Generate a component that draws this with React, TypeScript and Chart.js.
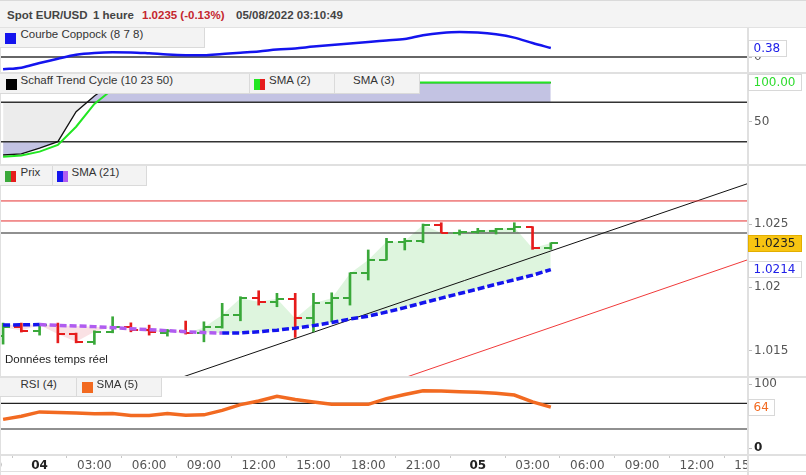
import React, { useEffect, useRef } from 'react';
import { Chart, registerables } from 'chart.js';

Chart.register(...registerables);
Chart.defaults.font.family = '"DejaVu Sans", Verdana, sans-serif';

// ---- time axis (hours counted from 04/08 00:00) ----
const hours = [-2, -1, 0, 1, 2, 3, 4, 5, 6, 7, 8, 9, 10, 11, 12, 13, 14, 15, 16, 17, 18, 19, 20, 21, 22, 23, 24, 25, 26, 27, 28];
const xTickHours = [-3, 0, 3, 6, 9, 12, 15, 18, 21, 24, 27, 30, 33, 36, 39];
const xTickLabels = ['21:00', '04', '03:00', '06:00', '09:00', '12:00', '15:00', '18:00', '21:00', '05', '03:00', '06:00', '09:00', '12:00', '15:00'];
const xBoldLabels = ['04', '05'];

// ---- price (OHLC, hourly) ----
const opens = [1.01615, 1.01686, 1.01659, 1.01702, 1.01631, 1.0157, 1.01649, 1.01689, 1.01663, 1.01641, 1.01652, 1.01637, 1.01684, 1.01781, 1.01916, 1.01886, 1.01911, 1.01755, 1.01874, 1.01913, 1.0211, 1.02216, 1.0236, 1.02366, 1.02492, 1.02431, 1.02439, 1.02447, 1.02458, 1.02474, 1.02308];
const highs = [1.01718, 1.01718, 1.0171, 1.01718, 1.01639, 1.01657, 1.01768, 1.0172, 1.01702, 1.01668, 1.01734, 1.01728, 1.01874, 1.01926, 1.01973, 1.01953, 1.01953, 1.01953, 1.01957, 1.02115, 1.02295, 1.02387, 1.02387, 1.025, 1.0251, 1.02453, 1.02466, 1.02466, 1.0251, 1.02479, 1.02352];
const lows = [1.01552, 1.01647, 1.01623, 1.01562, 1.01562, 1.0155, 1.01641, 1.01649, 1.01623, 1.01615, 1.01631, 1.0157, 1.01678, 1.01736, 1.0186, 1.01847, 1.01605, 1.01649, 1.01728, 1.0186, 1.02058, 1.02216, 1.02295, 1.02352, 1.02431, 1.02413, 1.02427, 1.02421, 1.02439, 1.023, 1.023];
const closes = [1.01686, 1.01659, 1.01702, 1.01631, 1.0157, 1.01649, 1.01689, 1.01663, 1.01649, 1.01652, 1.01637, 1.01684, 1.01781, 1.01913, 1.01886, 1.01911, 1.01755, 1.01874, 1.01913, 1.0211, 1.02216, 1.0236, 1.02366, 1.02492, 1.02431, 1.02439, 1.02447, 1.02458, 1.02474, 1.02308, 1.0235];
const sma21 = [1.01703, 1.01704, 1.01706, 1.017, 1.01695, 1.0169, 1.01682, 1.01674, 1.01666, 1.01658, 1.0165, 1.01643, 1.01639, 1.0164, 1.0165, 1.01662, 1.01678, 1.01698, 1.01722, 1.0175, 1.01773, 1.01805, 1.0184, 1.01878, 1.01915, 1.01951, 1.01987, 1.02024, 1.0206, 1.02096, 1.0214];
const priceRedLevels = [1.02682, 1.02524];
const priceBlackLevels = [1.02429];
const trendBlackHours = [4, 40];
const trendBlackPrices = [1.01103, 1.02879];
const trendRedHours = [20, 40];
const trendRedPrices = [1.01287, 1.02278];
const priceTicks = [1.015, 1.02, 1.025];
const priceTickLabels = ['1.015', '1.02', '1.025'];

// ---- Coppock ----
const coppock = [-0.515, -0.45, -0.253, -0.07, 0.093, 0.169, 0.198, 0.194, 0.156, 0.105, 0.076, 0.072, 0.127, 0.181, 0.232, 0.312, 0.363, 0.439, 0.502, 0.565, 0.633, 0.696, 0.76, 0.916, 1.013, 1.055, 1.034, 0.958, 0.819, 0.59, 0.38];
const coppockTicks = [0];
const coppockTickLabels = ['0'];

// ---- Schaff Trend Cycle ----
const stc = [8.1, 9.5, 16.7, 25.1, 63, 83, 100, 100, 100, 100, 100, 100, 100, 100, 100, 100, 100, 100, 100, 100, 100, 100, 100, 100, 100, 100, 100, 100, 100, 100, 100];
const stcSma2 = [6, 7.6, 12.4, 20.9, 44, 73, 91.5, 100, 100, 100, 100, 100, 100, 100, 100, 100, 100, 100, 100, 100, 100, 100, 100, 100, 100, 100, 100, 100, 100, 100, 100];
const stcUpper = 75;
const stcLower = 25;
const stcTicks = [50];
const stcTickLabels = ['50'];

// ---- RSI ----
const rsiSma5 = [45, 50, 56.6, 55.8, 55, 53.6, 54.2, 51, 51, 54, 51.6, 52, 59, 67.9, 73.6, 81, 75.8, 72, 68.4, 68.4, 68.4, 77.3, 83.6, 89.5, 89, 88, 87, 85.5, 82.8, 72.3, 64];
const rsiLevels = [70, 30];
const rsiTicks = [0, 100];
const rsiTickLabels = ['0', '100'];

const levelSpan = [-3, 40];

const GREEN = '#3aa83a';
const RED = '#e61c1c';
const BLUE = '#1414ee';
const PURPLE = '#b05cf0';
const ORANGE = '#f26a21';
const LAV = '#c3c3e3';
const GRAYFILL = '#ececec';
const LEG_FONT = '"Liberation Sans", Arial, sans-serif';

function Legend(props: any) {
  const { left, top, width, height, swatch, swLeft, text, textLeft } = props;
  return (
    <div style={{ position: 'absolute', left, top, width, height, boxSizing: 'border-box', background: '#f3f3f3', borderRight: '1px solid #dadada', borderBottom: '1px solid #dadada' }}>
      {swatch ? (
        <div style={{ position: 'absolute', left: swLeft - left, top: (height - 11) / 2, width: 11, height: 11, display: 'flex' }}>
          {swatch.map((c: string, i: number) => (
            <div key={i} style={{ flex: 1, background: c }} />
          ))}
        </div>
      ) : null}
      <span style={{ position: 'absolute', left: textLeft - left, top: 0, lineHeight: height - 1 + 'px', font: `11.5px ${LEG_FONT}`, color: '#333', whiteSpace: 'nowrap' }}>{text}</span>
    </div>
  );
}

export default function App() {
  const ref = useRef<HTMLCanvasElement>(null);

  useEffect(() => {
    const canvas = ref.current as HTMLCanvasElement;
    const mkTick = (color: string, left: boolean) => {
      const c = document.createElement('canvas');
      c.width = 14;
      c.height = 2;
      const g = c.getContext('2d') as CanvasRenderingContext2D;
      g.fillStyle = color;
      g.fillRect(left ? 0 : 7, 0, 7, 2);
      return c;
    };
    const up = closes.map((c, i) => c >= opens[i]);
    const barColors = up.map((u) => (u ? GREEN : RED));
    const openStyles = up.map((u) => mkTick(u ? GREEN : RED, true));
    const closeStyles = up.map((u) => mkTick(u ? GREEN : RED, false));
    const pts = (ys: number[]) => hours.map((h, i) => ({ x: h, y: ys[i] }));
    const span = (v: number) => levelSpan.map((x) => ({ x, y: v }));
    const line = (extra: any) => ({ type: 'line', pointRadius: 0, fill: false, clip: 0, tension: 0, borderWidth: 1.5, ...extra });

    const datasets: any[] = [];
    // Coppock
    datasets.push(line({ label: 'cop0', data: span(0), yAxisID: 'yCop', borderColor: '#333', order: 50 }));
    datasets.push(line({ label: 'coppock', data: pts(coppock), yAxisID: 'yCop', borderColor: BLUE, borderWidth: 2.5, tension: 0.4, cubicInterpolationMode: 'monotone', order: 10 }));
    // STC fills
    datasets.push(line({ label: 'stcFillUp', data: pts(stc), yAxisID: 'ySch', borderWidth: 0, borderColor: 'rgba(0,0,0,0)', fill: { target: { value: stcUpper }, above: LAV, below: GRAYFILL }, order: 100 }));
    datasets.push(line({ label: 'stcFillLow', data: pts(stc), yAxisID: 'ySch', borderWidth: 0, borderColor: 'rgba(0,0,0,0)', fill: { target: { value: stcLower }, above: 'rgba(0,0,0,0)', below: LAV }, order: 99 }));
    datasets.push(line({ label: 'stc75', data: span(stcUpper), yAxisID: 'ySch', borderColor: '#333', order: 50 }));
    datasets.push(line({ label: 'stc25', data: span(stcLower), yAxisID: 'ySch', borderColor: '#333', order: 50 }));
    datasets.push(line({ label: 'stc', data: pts(stc), yAxisID: 'ySch', borderColor: '#111', borderWidth: 1.3, order: 20 }));
    datasets.push(line({ label: 'stcSma2', data: pts(stcSma2), yAxisID: 'ySch', borderColor: '#22e622', borderWidth: 2, order: 10 }));
    // Price
    datasets.push(line({ label: 'sma21', data: pts(sma21), yAxisID: 'yPrice', borderColor: BLUE, borderWidth: 3.5, borderDash: [7, 3], segment: { borderColor: (c: any) => (c.p1.parsed.y < c.p0.parsed.y ? PURPLE : BLUE) }, order: 30 }));
    const smaIdx = datasets.length - 1;
    datasets.push(line({ label: 'closeFill', data: pts(closes), yAxisID: 'yPrice', borderWidth: 0, borderColor: 'rgba(0,0,0,0)', fill: { target: smaIdx, above: 'rgba(90,205,90,0.2)', below: 'rgba(232,120,130,0.22)' }, order: 100 }));
    priceRedLevels.forEach((v) => datasets.push(line({ label: 'red', data: span(v), yAxisID: 'yPrice', borderColor: '#e53030', borderWidth: 1, order: 60 })));
    priceBlackLevels.forEach((v) => datasets.push(line({ label: 'black', data: span(v), yAxisID: 'yPrice', borderColor: '#222', borderWidth: 1.2, order: 60 })));
    datasets.push(line({ label: 'trendBlack', data: trendBlackHours.map((h, i) => ({ x: h, y: trendBlackPrices[i] })), yAxisID: 'yPrice', borderColor: '#111', borderWidth: 1, order: 60 }));
    datasets.push(line({ label: 'trendRed', data: trendRedHours.map((h, i) => ({ x: h, y: trendRedPrices[i] })), yAxisID: 'yPrice', borderColor: '#f03a3a', borderWidth: 1, order: 60 }));
    datasets.push({ type: 'bar', label: 'hl', data: hours.map((h, i) => ({ x: h, y: [lows[i], highs[i]] })), yAxisID: 'yPrice', backgroundColor: barColors, barThickness: 2, borderWidth: 0, order: 40 });
    datasets.push({ type: 'line', label: 'open', data: pts(opens), yAxisID: 'yPrice', showLine: false, pointRadius: 4, pointStyle: openStyles, order: 40 });
    datasets.push({ type: 'line', label: 'close', data: pts(closes), yAxisID: 'yPrice', showLine: false, pointRadius: 4, pointStyle: closeStyles, order: 40 });
    // RSI
    rsiLevels.forEach((v) => datasets.push(line({ label: 'rsiLvl', data: span(v), yAxisID: 'yRsi', borderColor: '#222', borderWidth: 1.2, order: 50 })));
    datasets.push(line({ label: 'rsiSma5', data: pts(rsiSma5), yAxisID: 'yRsi', borderColor: ORANGE, borderWidth: 3.5, order: 10 }));

    const yAxis = (weight: number, min: number, max: number, ticks: number[], labels: string[]) => ({
      type: 'linear',
      position: 'right',
      stack: 'panes',
      stackWeight: weight,
      min,
      max,
      offset: false,
      grid: { drawOnChartArea: false, drawTicks: true, tickLength: 4, color: '#bdbdbd' },
      border: { display: false },
      ticks: {
        padding: 2,
        autoSkip: false,
        color: (c: any) => (c.tick && c.tick.value === 0 && labels === rsiTickLabels ? '#222' : '#555'),
        font: (c: any) => (c.tick && c.tick.value === 0 && labels === rsiTickLabels ? { size: 12, weight: 'bold' } : { size: 12 }),
        callback: (_v: any, i: number) => labels[i],
      },
      afterBuildTicks: (s: any) => {
        s.ticks = ticks.map((v) => ({ value: v }));
      },
      afterFit: (s: any) => {
        s.width = 58;
        s.paddingTop = 0;
        s.paddingBottom = 0;
      },
    });

    const valueBoxes = [
      { scale: 'yCop', value: coppock[coppock.length - 1], text: coppock[coppock.length - 1].toFixed(2), color: '#2020e8', bg: '#fff', border: '#d8d8d8' },
      { scale: 'ySch', value: stcSma2[stcSma2.length - 1], text: stcSma2[stcSma2.length - 1].toFixed(2), color: '#2edc2e', bg: '#fff', border: '#d8d8d8' },
      { scale: 'yPrice', value: closes[closes.length - 1], text: closes[closes.length - 1].toFixed(4), color: '#222', bg: '#f8c512', border: '#e3ae00' },
      { scale: 'yPrice', value: sma21[sma21.length - 1], text: sma21[sma21.length - 1].toFixed(4), color: '#2020e8', bg: '#fff', border: '#d8d8d8' },
      { scale: 'yRsi', value: rsiSma5[rsiSma5.length - 1], text: rsiSma5[rsiSma5.length - 1].toFixed(0), color: ORANGE, bg: '#fff', border: '#d8d8d8' },
    ];

    const decor = {
      id: 'decor',
      afterDraw(chart: any) {
        const { ctx, chartArea, scales } = chart;
        const W = chart.width;
        const H = chart.height;
        ctx.save();
        ctx.fillStyle = '#fff';
        ctx.fillRect(chartArea.right, chartArea.bottom + 1, W - chartArea.right, H - chartArea.bottom - 1);
        ctx.fillStyle = '#e0e0e0';
        [scales.ySch.top, scales.yPrice.top, scales.yRsi.top, chartArea.bottom].forEach((y: number) => ctx.fillRect(0, Math.round(y) - 1, W, 2));
        ctx.fillRect(Math.round(chartArea.right) - 1, 0, 2, H);
        ctx.fillRect(0, 0, 1, H);
        ctx.fillRect(0, H - 4, W, 1);
        ctx.font = '12px "DejaVu Sans"';
        ctx.textBaseline = 'middle';
        ctx.textAlign = 'left';
        valueBoxes.forEach((b) => {
          const yc = scales[b.scale].getPixelForValue(b.value);
          const w = Math.round(ctx.measureText(b.text).width + 12);
          const h = 17;
          const x = Math.round(chartArea.right);
          const top = Math.round(yc - h / 2);
          ctx.fillStyle = b.bg;
          ctx.fillRect(x, top, w, h);
          ctx.strokeStyle = b.border;
          ctx.lineWidth = 1;
          ctx.strokeRect(x + 0.5, top + 0.5, w - 1, h - 1);
          ctx.fillStyle = b.color;
          ctx.fillText(b.text, x + 5.5, top + h / 2 + 0.5);
        });
        ctx.restore();
      },
    };

    const chart = new Chart(canvas, {
      type: 'line',
      data: { datasets },
      options: {
        responsive: false,
        animation: false,
        events: [],
        layout: { padding: 0, autoPadding: false },
        plugins: { legend: { display: false }, tooltip: { enabled: false }, filler: { propagate: false } },
        scales: {
          x: {
            type: 'linear',
            position: 'bottom',
            min: -2.169,
            max: 38.8,
            offset: false,
            grid: { drawOnChartArea: false, drawTicks: true, tickLength: 3, color: '#c8c8c8' },
            border: { display: false },
            ticks: {
              autoSkip: false,
              maxRotation: 0,
              minRotation: 0,
              padding: 1,
              color: (c: any) => (xBoldLabels.includes(xTickLabels[c.index]) ? '#222' : '#555'),
              font: (c: any) => (xBoldLabels.includes(xTickLabels[c.index]) ? { size: 12, weight: 'bold' } : { size: 12 }),
              callback: (_v: any, i: number) => xTickLabels[i],
            },
            afterBuildTicks: (s: any) => {
              s.ticks = xTickHours.map((v) => ({ value: v }));
            },
            afterFit: (s: any) => {
              s.height = 20;
              s.paddingLeft = 0;
              s.paddingRight = 0;
            },
          },
          yCop: yAxis(45, -0.675, 1.224, coppockTicks, coppockTickLabels),
          ySch: yAxis(92, -4.6, 112.2, stcTicks, stcTickLabels),
          yPrice: yAxis(212, 1.012924, 1.029657, priceTicks, priceTickLabels),
          yRsi: yAxis(78, -10.4, 110.9, rsiTicks, rsiTickLabels),
        } as any,
      },
      plugins: [decor],
    } as any);
    return () => chart.destroy();
  }, []);

  const hdr = { position: 'absolute' as const, top: 8, lineHeight: '16px', font: `bold 11.5px ${LEG_FONT}`, color: '#444', whiteSpace: 'nowrap' as const };

  return (
    <div style={{ position: 'fixed', left: 0, top: 0, width: 806, height: 475, background: '#fff', overflow: 'hidden' }}>
      <div style={{ position: 'absolute', left: 0, top: 0, width: 806, height: 28, boxSizing: 'border-box', background: '#f4f4f4', borderTop: '1px solid #dadada', borderBottom: '1px solid #e2e2e2' }}>
        <span style={{ ...hdr, left: 7 }}>Spot EUR/USD</span>
        <span style={{ ...hdr, left: 93 }}>1 heure</span>
        <span style={{ ...hdr, left: 142, color: '#c4262e' }}>1.0235 (-0.13%)</span>
        <span style={{ ...hdr, left: 236 }}>05/08/2022 03:10:49</span>
      </div>
      <canvas ref={ref} width={806} height={447} style={{ position: 'absolute', left: 0, top: 28, width: 806, height: 447 }} />
      <Legend left={0} top={28} width={205} height={20} swatch={[BLUE]} swLeft={5} text="Courbe Coppock (8 7 8)" textLeft={20.5} />
      <Legend left={0} top={74} width={250} height={20} swatch={['#000']} swLeft={6} text="Schaff Trend Cycle (10 23 50)" textLeft={20.5} />
      <Legend left={250} top={74} width={85} height={20} swatch={['#22e622', RED]} swLeft={254} text="SMA (2)" textLeft={269} />
      <Legend left={335} top={74} width={85} height={20} swatch={null} swLeft={0} text="SMA (3)" textLeft={353} />
      <Legend left={0} top={166} width={53} height={20} swatch={[GREEN, RED]} swLeft={5} text="Prix" textLeft={20.5} />
      <Legend left={53} top={166} width={94} height={20} swatch={[BLUE, PURPLE]} swLeft={57} text="SMA (21)" textLeft={71.5} />
      <Legend left={0} top={378} width={77} height={19} swatch={null} swLeft={0} text="RSI (4)" textLeft={20.5} />
      <Legend left={77} top={378} width={85} height={19} swatch={[ORANGE]} swLeft={82} text="SMA (5)" textLeft={96.5} />
      <span style={{ position: 'absolute', left: 5, top: 353, lineHeight: '16px', font: `11.5px ${LEG_FONT}`, color: '#222' }}>Données temps réel</span>
    </div>
  );
}
